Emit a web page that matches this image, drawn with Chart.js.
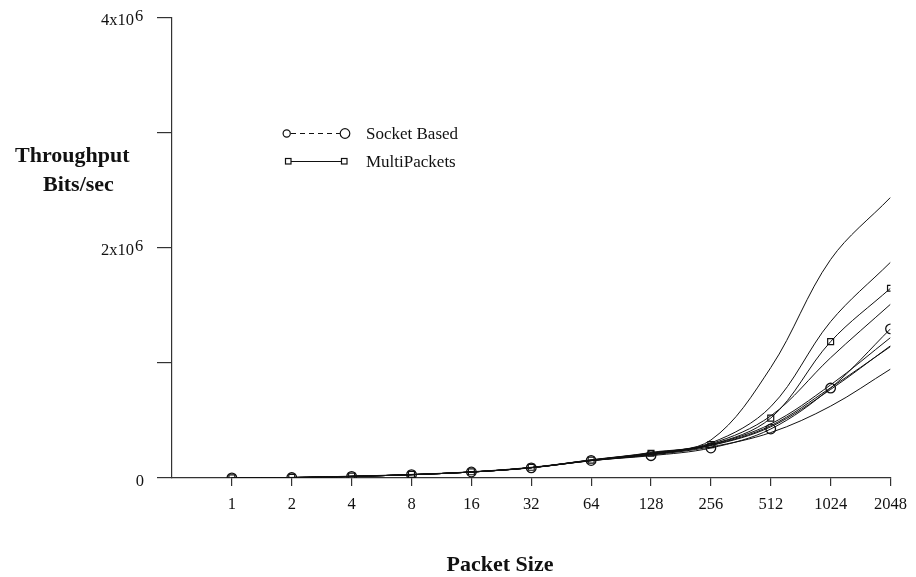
<!DOCTYPE html>
<html>
<head>
<meta charset="utf-8">
<title>Throughput vs Packet Size</title>
<script src="https://cdn.jsdelivr.net/npm/chart.js@4.4.0/dist/chart.umd.min.js"></script>
<style>
  html, body { margin: 0; padding: 0; background: #fff; }
  #wrap { position: relative; width: 916px; height: 577px; }
</style>
</head>
<body>
<div id="wrap"><canvas id="chart" width="916" height="577"></canvas></div>
<script>
// packet sizes on the x axis (one slot each)
var packetSizes = ["1", "2", "4", "8", "16", "32", "64", "128", "256", "512", "1024", "2048"];

// measured throughput, bits/sec
var socketBased  = [1500, 4000, 14000, 29000, 52000, 88000, 152000, 194000, 261000, 426000, 782000, 1297000];
var multiPackets = [2000, 5000, 16000, 31000, 54000, 93000, 155000, 215000, 290000, 521000, 1186000, 1650000];

// fitted curves, drawn without markers
var fitA = [1500, 4000, 14000, 29000, 52000, 90000, 158000, 222000, 330000, 960000, 1900000, 2440000];
var fitB = [1500, 4000, 14000, 29000, 52000, 90000, 156000, 218000, 305000, 620000, 1360000, 1876000];
var fitC = [1500, 4000, 14000, 29000, 52000, 90000, 155000, 214000, 298000, 540000, 1046000, 1511000];
var fitD = [1500, 4000, 14000, 29000, 52000, 90000, 153000, 208000, 290000, 470000, 810000, 1221000];
var fitE = [1500, 4000, 14000, 29000, 52000, 90000, 152000, 206000, 285000, 455000, 785000, 1143000];
var fitF = [1500, 4000, 14000, 29000, 52000, 90000, 151000, 204000, 282000, 445000, 770000, 1150000];
var fitG = [1500, 4000, 14000, 29000, 52000, 90000, 150000, 200000, 270000, 395000, 625000, 947000];
var fits = [fitA, fitB, fitC, fitD, fitE, fitF, fitG];

// y tick labels: mantissa and exponent
var yLabelValues = [0, 2000000, 4000000];
var yLabelText   = ["0", "2x10", "4x10"];
var yLabelExp    = ["", "6", "6"];

var SERIF = "'Liberation Serif', 'Times New Roman', serif";
var INK = "#111";
var CURVE_TENSION = 0.35;

function toPoints(arr) {
	return arr.map(function (v, i) { return { x: i, y: v }; });
}

var datasets = fits.map(function (f) {
	return {
		data: toPoints(f),
		borderColor: INK,
		borderWidth: 1,
		pointRadius: 0,
		tension: CURVE_TENSION
	};
});

datasets.push({
	label: "MultiPackets",
	data: toPoints(multiPackets),
	borderColor: INK,
	borderWidth: 1,
	pointStyle: "rect",
	pointRadius: 4.2,
	pointBorderWidth: 1.2,
	pointBackgroundColor: "rgba(0,0,0,0)",
	pointBorderColor: INK,
	tension: CURVE_TENSION
});

datasets.push({
	label: "Socket Based",
	data: toPoints(socketBased),
	borderColor: INK,
	borderWidth: 1,
	pointStyle: "circle",
	pointRadius: 4.8,
	pointBorderWidth: 1.3,
	pointBackgroundColor: "rgba(0,0,0,0)",
	pointBorderColor: INK,
	tension: CURVE_TENSION
});

// labels, titles and key drawn straight onto the canvas
var decorations = {
	id: "decorations",
	afterDraw: function (chart) {
		var ctx = chart.ctx;
		var y = chart.scales.y;
		ctx.save();
		ctx.fillStyle = INK;

		// y tick labels with raised exponent
		ctx.font = "16.5px " + SERIF;
		ctx.textBaseline = "alphabetic";
		yLabelValues.forEach(function (v, i) {
			var py = y.getPixelForValue(v);
			if (yLabelExp[i]) {
				ctx.textAlign = "right";
				ctx.fillText(yLabelText[i], 134, py + 7);
				ctx.textAlign = "left";
				ctx.fillText(yLabelExp[i], 135, py + 2.5);
			} else {
				ctx.textAlign = "right";
				ctx.fillText(yLabelText[i], 144, py + 8);
			}
		});

		// axis titles
		ctx.font = "bold 22px " + SERIF;
		ctx.textAlign = "left";
		ctx.fillText("Throughput", 15, 162);
		ctx.fillText("Bits/sec", 43, 191);
		ctx.textAlign = "center";
		ctx.fillText("Packet Size", 500, 571);

		// key
		ctx.strokeStyle = INK;
		ctx.lineWidth = 1;
		ctx.setLineDash([5, 4]);
		ctx.beginPath();
		ctx.moveTo(291, 133.5);
		ctx.lineTo(340, 133.5);
		ctx.stroke();
		ctx.setLineDash([]);
		ctx.lineWidth = 1.2;
		ctx.beginPath();
		ctx.arc(286.7, 133.5, 3.6, 0, Math.PI * 2);
		ctx.stroke();
		ctx.beginPath();
		ctx.arc(345, 133.5, 4.8, 0, Math.PI * 2);
		ctx.stroke();

		ctx.lineWidth = 1;
		ctx.beginPath();
		ctx.moveTo(291, 161.5);
		ctx.lineTo(342, 161.5);
		ctx.stroke();
		ctx.lineWidth = 1.2;
		ctx.strokeRect(285.5, 158.5, 5.5, 5.5);
		ctx.strokeRect(341.5, 158.5, 5.5, 5.5);

		ctx.font = "17px " + SERIF;
		ctx.textAlign = "left";
		ctx.fillText("Socket Based", 366, 139);
		ctx.fillText("MultiPackets", 366, 167);

		ctx.restore();
	}
};

var chart = new Chart(document.getElementById("chart"), {
	type: "line",
	data: { datasets: datasets },
	options: {
		responsive: false,
		animation: false,
		layout: { padding: { left: 0, top: 18, right: 25, bottom: 0 } },
		plugins: {
			legend: { display: false },
			tooltip: { enabled: false }
		},
		scales: {
			x: {
				type: "linear",
				min: -1,
				max: packetSizes.length - 1,
				afterBuildTicks: function (scale) {
					scale.ticks = packetSizes.map(function (s, i) { return { value: i }; });
				},
				afterFit: function (scale) { scale.height = 99; },
				ticks: {
					autoSkip: false,
					maxRotation: 0,
					padding: 9,
					color: INK,
					font: { family: SERIF, size: 16.5 },
					callback: function (v) { return packetSizes[v]; }
				},
				grid: {
					drawOnChartArea: false,
					drawTicks: true,
					tickLength: 8,
					color: "#333",
					lineWidth: 1.2
				},
				border: { display: true, color: "#333", width: 1.2 }
			},
			y: {
				min: 0,
				max: 4000000,
				afterFit: function (scale) { scale.width = 172; },
				ticks: {
					stepSize: 1000000,
					padding: 0,
					callback: function () { return ""; }
				},
				grid: {
					drawOnChartArea: false,
					drawTicks: true,
					tickLength: 15,
					color: "#333",
					lineWidth: 1.2
				},
				border: { display: true, color: "#333", width: 1.2 }
			}
		}
	},
	plugins: [decorations]
});
</script>
</body>
</html>
